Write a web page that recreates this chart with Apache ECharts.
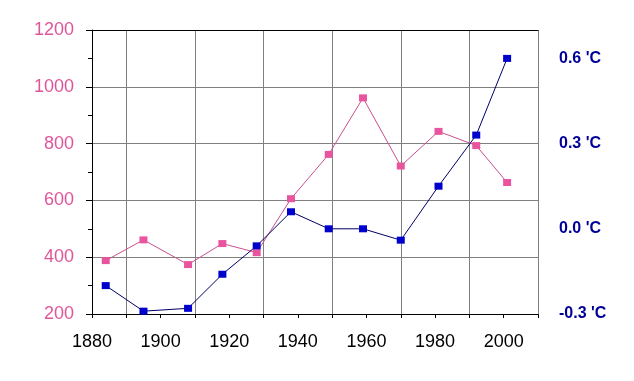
<!DOCTYPE html>
<html><head><meta charset="utf-8">
<script src="https://cdn.jsdelivr.net/npm/echarts@6/dist/echarts.min.js"></script>
<style>html,body{margin:0;padding:0;background:#fff}#c{width:634px;height:381px}</style>
</head><body><div id="c"></div>
<script>
const years = [1884, 1895, 1908, 1918, 1928, 1938, 1949, 1959, 1970, 1981, 1992, 2001];
const pinkValues = [388, 461, 374, 448, 416, 606, 762, 961, 721, 843, 793, 663];
const tempValues = [-0.2, -0.29, -0.28, -0.16, -0.06, 0.06, 0.0, 0.0, -0.04, 0.15, 0.33, 0.6];
const xLabelYears = [1880, 1900, 1920, 1940, 1960, 1980, 2000];

const chart = echarts.init(document.getElementById('c'), null, {renderer: 'canvas'});
chart.setOption({
  animation: false,
  backgroundColor: '#fff',
  grid: {left: 92, right: 96, top: 30, bottom: 67},
  xAxis: [{
    type: 'value', min: 1880, max: 2010, interval: 10, position: 'bottom',
    axisLine: {show: true, onZero: false, lineStyle: {color: '#000', width: 1}},
    axisTick: {show: true, length: 4, lineStyle: {color: '#000'}},
    axisLabel: {
      margin: 19, fontSize: 18, color: '#000', fontFamily: 'Liberation Sans, Arial, sans-serif',
      formatter: v => xLabelYears.indexOf(v) >= 0 ? String(v) : ''
    },
    splitLine: {show: true, lineStyle: {color: ['rgba(0,0,0,0)', '#808080'], width: 1}}
  }, {
    type: 'value', position: 'top', min: 1880, max: 2010,
    axisLine: {show: true, onZero: false, lineStyle: {color: '#000', width: 1}},
    axisTick: {show: false}, axisLabel: {show: false}, splitLine: {show: false}
  }],
  yAxis: [{
    type: 'value', min: 200, max: 1200, interval: 200, position: 'left',
    axisLine: {show: true, onZero: false, lineStyle: {color: '#000', width: 1}},
    axisTick: {show: true, length: 6, lineStyle: {color: '#000'}},
    minorTick: {show: true, splitNumber: 2, length: 4, lineStyle: {color: '#000'}},
    axisLabel: {margin: 18, fontSize: 18, color: '#e0559a', fontFamily: 'Liberation Sans, Arial, sans-serif',
      formatter: v => String(v)},
    splitLine: {show: true, lineStyle: {color: '#808080', width: 1}}
  }, {
    type: 'value', min: -0.3, max: 0.7, interval: 0.3, position: 'right',
    axisLine: {show: false, onZero: false}, axisTick: {show: false},
    axisLabel: {
      margin: 21, fontSize: 16, fontWeight: 'bold', color: '#000099',
      fontFamily: 'Liberation Sans, Arial, sans-serif', showMaxLabel: false,
      formatter: v => (v > 0.65 ? '' : v.toFixed(1) + " 'C")
    },
    splitLine: {show: false}
  }],
  series: [{
    type: 'line', xAxisIndex: 0, yAxisIndex: 0,
    data: years.map((y, i) => [y, pinkValues[i]]),
    symbol: 'rect', symbolSize: [8, 7], showSymbol: true,
    itemStyle: {color: '#e8559e'},
    lineStyle: {color: '#c8508e', width: 1}
  }, {
    type: 'line', xAxisIndex: 0, yAxisIndex: 1,
    data: years.map((y, i) => [y, tempValues[i]]),
    symbol: 'rect', symbolSize: [8, 7], showSymbol: true,
    itemStyle: {color: '#0000cc'},
    lineStyle: {color: '#000066', width: 1}
  }]
});
</script></body></html>
